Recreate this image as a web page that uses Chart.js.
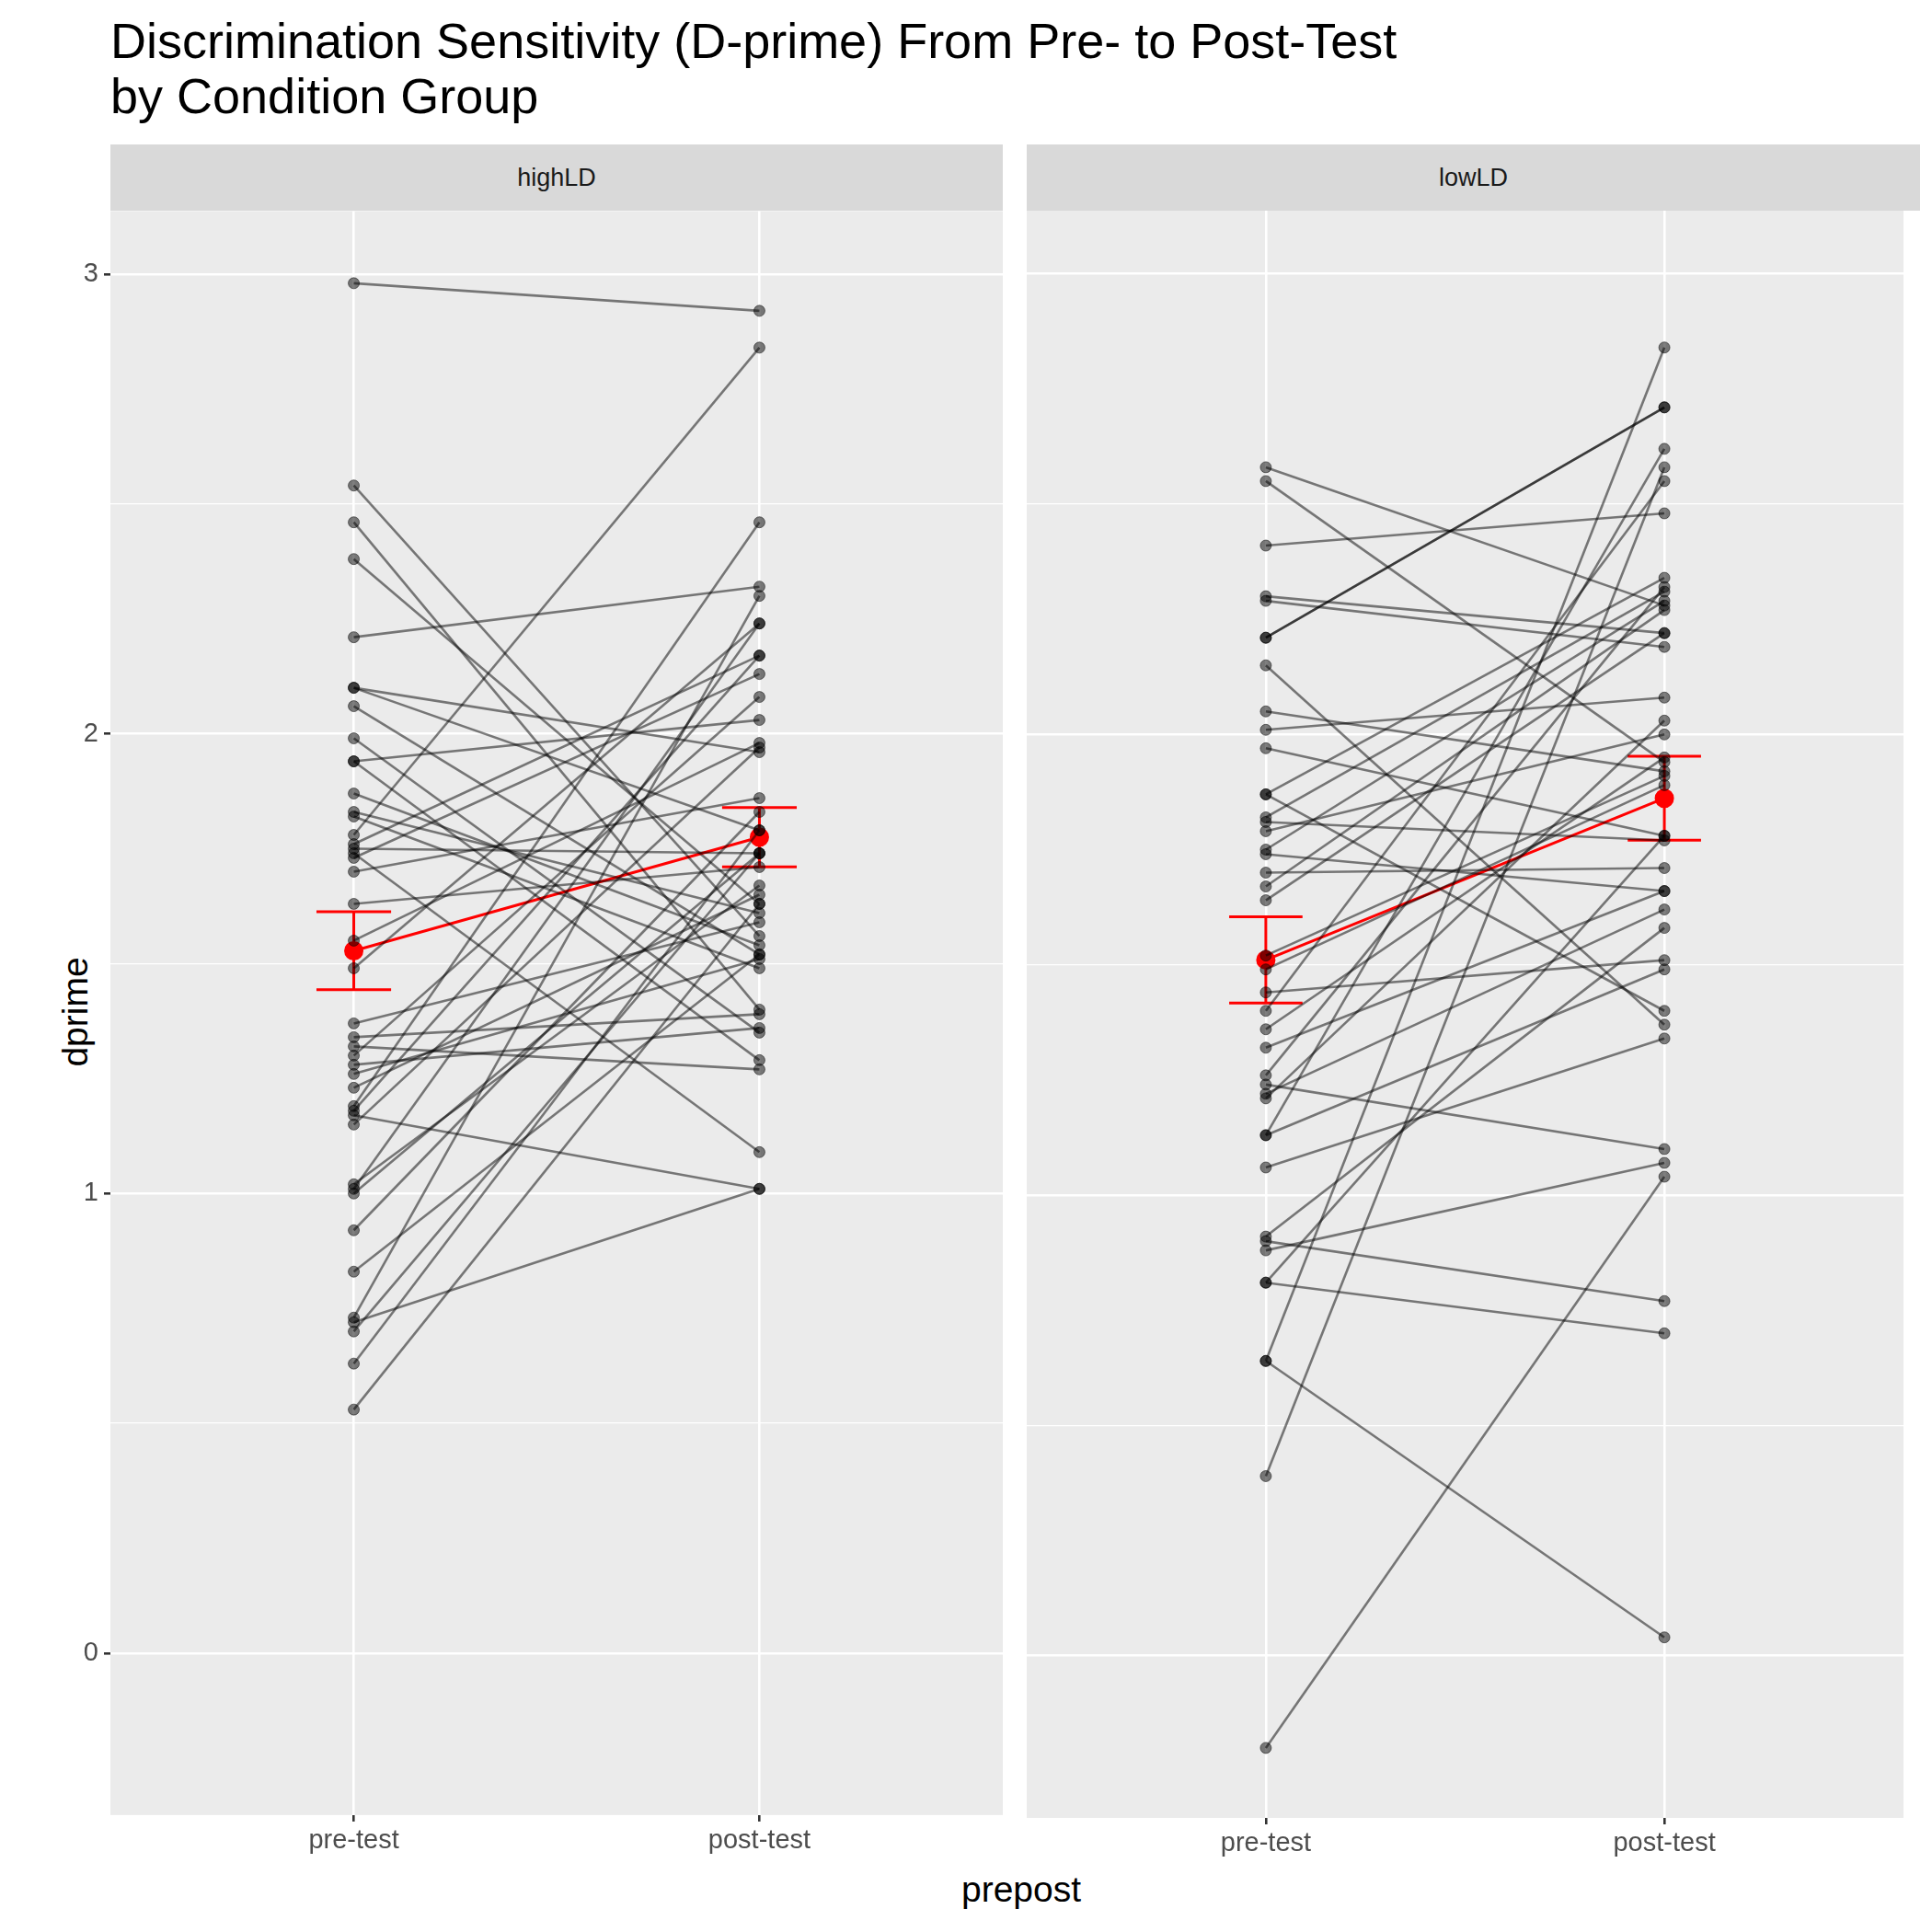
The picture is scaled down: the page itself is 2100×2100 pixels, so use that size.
<!DOCTYPE html>
<html>
<head>
<meta charset="utf-8">
<script src="https://cdn.jsdelivr.net/npm/chart.js@4"></script>
<style>
  body { margin: 0; background: #fff; font-family: "Liberation Sans", Arial, sans-serif; }
  #wrap { position: relative; width: 2100px; height: 2100px; overflow: hidden; }
  .abs { position: absolute; }
  .strip { background: #D9D9D9; color: #1A1A1A; font-size: 27px; text-align: center; line-height: 72px; height: 72px; }
</style>
</head>
<body>
<div id="wrap">
  <div class="abs" style="left:120px;top:14px;font-size:54px;line-height:60px;color:#000;">Discrimination Sensitivity (D-prime) From Pre- to Post-Test<br>by Condition Group</div>
  <div class="abs strip" style="left:120px;top:157px;width:970px;">highLD</div>
  <div class="abs strip" style="left:1116px;top:157px;width:971px;">lowLD</div>
  <div class="abs" style="left:0;top:1100px;width:120px;text-align:center;font-size:39px;transform:rotate(-90deg);transform-origin:60px 0;">dprime</div>
  <div class="abs" style="left:0;top:2032px;width:2100px;text-align:center;font-size:39px;padding-left:120px;box-sizing:border-box;">prepost</div>
  <canvas id="c1" class="abs" width="1090" height="1810"></canvas>
  <canvas id="c2" class="abs" width="971" height="1810"></canvas>
</div>
<script>
const timeLabels = ['pre-test', 'post-test'];
const yTicks = [0, 0.5, 1, 1.5, 2, 2.5, 3];

const highPre  = [2.98, 2.54, 2.46, 2.38, 2.21, 2.10, 2.10, 2.06, 1.99, 1.94, 1.94, 1.87, 1.83, 1.82, 1.78, 1.76, 1.75, 1.74, 1.73, 1.70, 1.63, 1.55,
                  1.49, 1.37, 1.34, 1.32, 1.30, 1.28, 1.26, 1.23, 1.19, 1.18, 1.17, 1.15, 1.02, 1.01, 1.00, 0.92, 0.83, 0.73, 0.72, 0.70, 0.63, 0.53];
const highPost = [2.92, 1.56, 1.40, 1.63, 2.32, 1.96, 1.79, 1.52, 1.35, 1.29, 2.03, 1.54, 1.61, 1.49, 2.84, 2.17, 1.74, 1.09, 2.13, 1.86, 1.71, 1.98,
                  2.24, 1.59, 1.39, 1.27, 2.08, 1.36, 1.51, 1.65, 2.46, 2.17, 1.01, 1.97, 1.67, 2.24, 1.74, 1.83, 1.52, 2.30, 1.01, 1.74, 1.79, 1.63];

const lowPre  = [2.58, 2.55, 2.41, 2.30, 2.29, 2.21, 2.21, 2.15, 2.05, 2.01, 1.97, 1.87, 1.87, 1.82, 1.81, 1.79, 1.75, 1.74, 1.70, 1.67, 1.64, 1.52,
                 1.49, 1.44, 1.40, 1.36, 1.32, 1.26, 1.24, 1.22, 1.21, 1.13, 1.13, 1.06, 0.91, 0.90, 0.88, 0.81, 0.81, 0.64, 0.64, 0.39, -0.20];
const lowPost = [2.28, 1.94, 2.48, 2.22, 2.19, 2.71, 2.71, 1.37, 1.92, 2.08, 1.78, 2.34, 1.40, 2.31, 1.77, 2.00, 2.29, 1.66, 1.71, 2.27, 2.22, 1.91,
                 1.89, 1.51, 2.55, 1.95, 1.66, 2.32, 1.10, 1.62, 2.03, 1.49, 2.62, 1.34, 1.58, 0.77, 1.07, 0.70, 1.78, 2.84, 0.04, 2.58, 1.04];

function meanSe(a) {
  const m = a.reduce((s, v) => s + v, 0) / a.length;
  const sd = Math.sqrt(a.reduce((s, v) => s + (v - m) * (v - m), 0) / (a.length - 1));
  return [m, sd / Math.sqrt(a.length)];
}

const panelBg = {
  id: 'panelBg',
  beforeDraw(chart) {
    const a = chart.chartArea, ctx = chart.ctx;
    ctx.save();
    ctx.fillStyle = '#EBEBEB';
    ctx.fillRect(a.left, a.top, a.right - a.left, a.bottom - a.top);
    ctx.restore();
  }
};

// place chart so that its plot area lands on the given page box
function placeChart(chart, left, top, width, height, axisLeft, axisBottom) {
  const cv = chart.canvas;
  let w = width + axisLeft, h = height + axisBottom;
  for (let k = 0; k < 3; k++) {
    chart.resize(w, h);
    const a = chart.chartArea;
    w += width - (a.right - a.left);
    h += height - (a.bottom - a.top);
  }
  chart.resize(w, h);
  const a = chart.chartArea;
  cv.style.left = (left - a.left) + 'px';
  cv.style.top = (top - a.top) + 'px';
}

function makeChart(id, pre, post, showY) {
  const datasets = [];
  for (let i = 0; i < pre.length; i++) {
    datasets.push({
      data: [{ x: 1, y: pre[i] }, { x: 2, y: post[i] }],
      showLine: true,
      borderColor: 'rgba(0,0,0,0.5)',
      borderWidth: 2.6,
      pointRadius: 6,
      pointBackgroundColor: 'rgba(0,0,0,0.5)',
      pointBorderColor: 'rgba(0,0,0,0.5)',
      pointBorderWidth: 1
    });
  }
  const [m1, s1] = meanSe(pre);
  const [m2, s2] = meanSe(post);
  const red = { showLine: true, borderColor: '#FF0000', borderWidth: 3, pointRadius: 0 };
  [[1, m1, s1], [2, m2, s2]].forEach(([x, m, s]) => {
    datasets.push({ ...red, data: [{ x: x, y: m - s }, { x: x, y: m + s }] });
    datasets.push({ ...red, data: [{ x: x - 0.092, y: m + s }, { x: x + 0.092, y: m + s }] });
    datasets.push({ ...red, data: [{ x: x - 0.092, y: m - s }, { x: x + 0.092, y: m - s }] });
  });
  datasets.push({ ...red, data: [{ x: 1, y: m1 }, { x: 2, y: m2 }], pointRadius: 9,
    pointBackgroundColor: '#FF0000', pointBorderColor: '#FF0000' });

  return new Chart(document.getElementById(id), {
    type: 'scatter',
    data: { datasets },
    plugins: [panelBg],
    options: {
      responsive: false,
      animation: false,
      devicePixelRatio: 1,
      layout: { padding: 0 },
      plugins: { legend: { display: false }, tooltip: { enabled: false } },
      scales: {
        x: {
          type: 'linear', min: 0.4, max: 2.6,
          afterBuildTicks: s => { s.ticks = [{ value: 1 }, { value: 2 }]; },
          afterFit: s => { s.height = 63; },
          ticks: { callback: v => timeLabels[v - 1], color: '#4D4D4D', font: { size: 29, family: 'Liberation Sans' }, padding: 4, maxRotation: 0 },
          grid: { color: '#FFFFFF', lineWidth: 2.6, tickColor: '#333333', tickLength: 7 },
          border: { display: false }
        },
        y: {
          min: -0.352, max: 3.137,
          afterBuildTicks: s => { s.ticks = yTicks.map(v => ({ value: v })); },
          afterFit: s => { s.width = showY ? 120 : 0; },
          ticks: {
            display: showY,
            callback: v => Number.isInteger(v) ? String(v) : '',
            color: '#4D4D4D', font: { size: 29, family: 'Liberation Sans' }, padding: 6
          },
          grid: {
            color: '#FFFFFF',
            lineWidth: c => Number.isInteger(c.tick.value) ? 2.6 : 1.3,
            tickColor: c => (showY && Number.isInteger(c.tick.value)) ? '#333333' : 'rgba(0,0,0,0)',
            tickLength: 7,
            drawTicks: showY
          },
          border: { display: false }
        }
      }
    }
  });
}

const chart1 = makeChart('c1', highPre, highPost, true);
const chart2 = makeChart('c2', lowPre, lowPost, false);
placeChart(chart1, 120, 229, 970, 1747, 120, 63);
placeChart(chart2, 1116, 229, 971, 1747, 0, 63);
</script>
</body>
</html>
